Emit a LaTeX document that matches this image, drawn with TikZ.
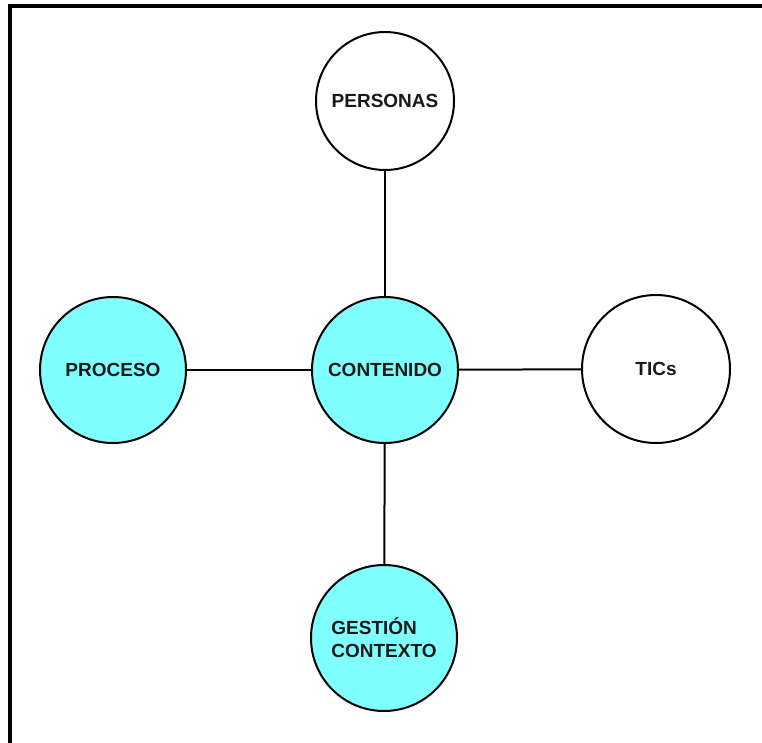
\documentclass[tikz,border=0pt]{standalone}
\usepackage{fontspec}
\setmainfont{Liberation Sans}
\usepackage{tikz}
\definecolor{cyan1}{RGB}{128,255,255}

\begin{document}
\begin{tikzpicture}[x=1pt,y=-1pt,
  bola/.style={circle,draw=black,line width=2pt,inner sep=0mm,minimum size=146pt,
    font=\fontsize{19}{23}\selectfont\bfseries,text=black!90},
  lazo/.style={line width=2pt}]
\useasboundingbox (0,0) rectangle (762,742);
%
% marco
\draw[line width=4pt] (10,750) -- (10,6) -- (770,6);
%
\node[bola,fill=cyan1] (cont) at (385,370) {CONTENIDO};
\node[bola,minimum size=138pt] (pers) at (385,101) {PERSONAS};
\node[bola,fill=cyan1] (proc) at (113,370) {PROCESO};
\node[bola,minimum size=148pt] (tics) at (656,369) {TICs};
\node[bola,fill=cyan1,align=left] (gest) at (384,638) {GESTIÓN\\CONTEXTO};
%
\draw[lazo] (pers) -- (cont);
\draw[lazo] (proc) -- (cont);
\draw[lazo] (cont) -- (tics);
\draw[lazo] (cont) -- (gest);
%
\end{tikzpicture}
\end{document}
